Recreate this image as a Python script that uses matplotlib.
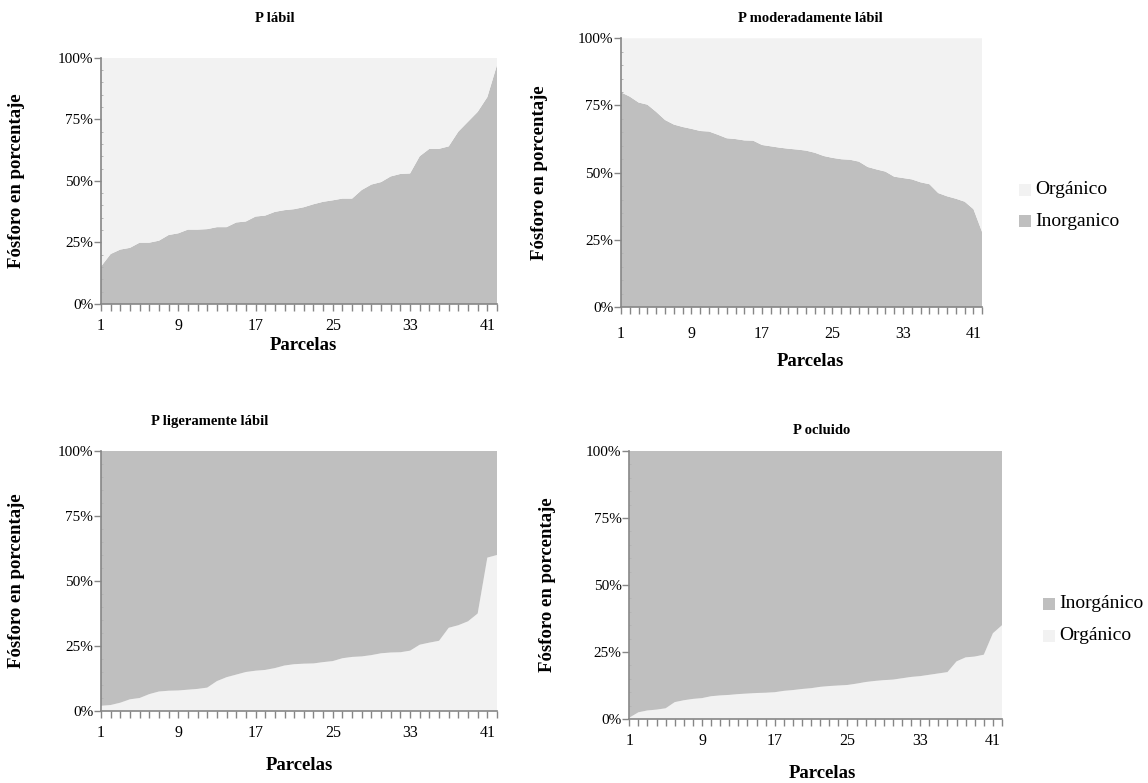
import matplotlib
matplotlib.use("Agg")
import matplotlib.pyplot as plt
from matplotlib.patches import Rectangle
from matplotlib.ticker import FixedLocator, FuncFormatter, MultipleLocator

plt.rcParams['font.family'] = ['Liberation Serif', 'DejaVu Serif']

# Parcel numbers (categories)
parcelas = list(range(1, 43))
tick_labels = [1, 9, 17, 25, 33, 41]

# P lábil: inorganic share (%) per parcel
labil_inorg = [15.2, 20.3, 22.1, 22.8, 24.9, 24.9, 25.7, 28.0, 28.7, 30.2,
               30.2, 30.4, 31.2, 31.2, 33.1, 33.5, 35.5, 35.9, 37.4, 38.1,
               38.5, 39.3, 40.5, 41.5, 42.1, 42.8, 42.8, 46.3, 48.5, 49.5,
               51.8, 52.8, 53.0, 60.0, 63.0, 63.0, 64.0, 70.0, 74.0, 78.0,
               84.0, 97.0]

# P moderadamente lábil: inorganic share (%) per parcel
moder_inorg = [79.9, 78.3, 76.1, 75.3, 72.6, 69.6, 67.9, 67.0, 66.3, 65.5,
               65.3, 64.1, 62.8, 62.5, 62.0, 61.9, 60.3, 59.8, 59.3, 58.9,
               58.6, 58.2, 57.4, 56.2, 55.5, 55.0, 54.8, 54.1, 52.1, 51.2,
               50.4, 48.5, 48.0, 47.5, 46.4, 45.7, 42.4, 41.2, 40.3, 39.2,
               36.4, 27.7]

# P ligeramente lábil: organic share (%) per parcel
liger_org = [2.0, 2.3, 3.2, 4.5, 5.0, 6.5, 7.5, 7.8, 7.9, 8.2,
             8.5, 9.0, 11.5, 13.0, 14.0, 15.0, 15.5, 15.8, 16.5, 17.5,
             18.0, 18.2, 18.3, 18.8, 19.2, 20.3, 20.8, 21.0, 21.5, 22.2,
             22.5, 22.6, 23.2, 25.5, 26.3, 27.0, 32.0, 33.0, 34.5, 37.5,
             59.0, 60.0]

# P ocluido: organic share (%) per parcel
ocl_org = [0.5, 2.5, 3.2, 3.5, 4.0, 6.3, 7.0, 7.5, 7.8, 8.5,
           8.8, 9.0, 9.3, 9.5, 9.7, 9.8, 10.0, 10.5, 10.8, 11.2,
           11.5, 12.0, 12.3, 12.5, 12.7, 13.2, 13.8, 14.2, 14.5, 14.7,
           15.2, 15.7, 16.0, 16.5, 17.0, 17.5, 21.5, 23.0, 23.3, 24.0,
           32.0, 35.0]

LIGHT = '#F2F2F2'
DARK = '#BFBFBF'
AXIS = '#868686'
W, H = 1148, 783

fig = plt.figure(figsize=(W / 100, H / 100), dpi=100)


def px_axes(x0, y0, x1, y1):
    return fig.add_axes([x0 / W, 1 - y1 / H, (x1 - x0) / W, (y1 - y0) / H])


def ftext(x, y, s, **kw):
    fig.text(x / W, 1 - y / H, s, **kw)


def style(ax, xpad):
    ax.set_xlim(1, len(parcelas))
    ax.set_ylim(0, 100)
    ax.xaxis.set_major_locator(FixedLocator(parcelas))
    ax.xaxis.set_major_formatter(
        FuncFormatter(lambda v, p: str(int(round(v))) if int(round(v)) in tick_labels else ''))
    ax.yaxis.set_major_locator(FixedLocator([0, 25, 50, 75, 100]))
    ax.yaxis.set_major_formatter(FuncFormatter(lambda v, p: f'{int(v)}%'))
    ax.yaxis.set_minor_locator(MultipleLocator(5))
    for s in ('top', 'right'):
        ax.spines[s].set_visible(False)
    for s in ('left', 'bottom'):
        ax.spines[s].set_color(AXIS)
        ax.spines[s].set_linewidth(1.2)
    ax.tick_params(axis='x', which='major', direction='out', length=5,
                   color=AXIS, width=1, labelsize=11.5, pad=xpad)
    ax.tick_params(axis='y', which='major', direction='out', length=5,
                   color=AXIS, width=1, labelsize=11, pad=0.5)
    ax.tick_params(axis='y', which='minor', direction='in', length=1.5,
                   color='#B4B4B4', width=0.7)


def legend(x, y, entries, gap=31):
    # square swatches followed by their labels, one row per entry
    for i, (color, label) in enumerate(entries):
        yy = y + i * gap
        fig.add_artist(Rectangle((x / W, 1 - (yy + 6) / H), 12 / W, 12 / H,
                                 transform=fig.transFigure, facecolor=color,
                                 edgecolor='none'))
        ftext(x + 16, yy, label, fontsize=14, ha='left', va='center')


lbl = dict(fontsize=13.5, fontweight='bold', ha='center', va='center')
ttl = dict(fontsize=10.5, fontweight='bold', ha='center', va='center')

# Top-left: P lábil
ax1 = px_axes(101, 57.7, 497, 304)
org1 = [100 - v for v in labil_inorg]
ax1.stackplot(parcelas, labil_inorg, org1, colors=[DARK, LIGHT], lw=0)
style(ax1, 5)
ftext(275, 18, 'P lábil', **ttl)
ftext(17, 181, 'Fósforo en porcentaje', rotation=90, **lbl)
ftext(303, 346, 'Parcelas', **lbl)

# Top-right: P moderadamente lábil
ax2 = px_axes(621, 38.3, 982.3, 307)
org2 = [100 - v for v in moder_inorg]
ax2.stackplot(parcelas, moder_inorg, org2, colors=[DARK, LIGHT], lw=0)
style(ax2, 9)
ftext(810, 18, 'P moderadamente lábil', **ttl)
ftext(540, 173, 'Fósforo en porcentaje', rotation=90, **lbl)
ftext(810, 362, 'Parcelas', **lbl)
legend(1019, 190, [(LIGHT, 'Orgánico'), (DARK, 'Inorganico')])

# Bottom-left: P ligeramente lábil
ax3 = px_axes(101, 451, 497, 711)
inorg3 = [100 - v for v in liger_org]
ax3.stackplot(parcelas, liger_org, inorg3, colors=[LIGHT, DARK], lw=0)
style(ax3, 5)
ftext(210, 421, 'P ligeramente lábil', **ttl)
ftext(17, 581, 'Fósforo en porcentaje', rotation=90, **lbl)
ftext(299, 766, 'Parcelas', **lbl)

# Bottom-right: P ocluido
ax4 = px_axes(629.3, 451, 1002, 719)
inorg4 = [100 - v for v in ocl_org]
ax4.stackplot(parcelas, ocl_org, inorg4, colors=[LIGHT, DARK], lw=0)
style(ax4, 5)
ftext(822, 431, 'P ocluido', **ttl)
ftext(548, 585, 'Fósforo en porcentaje', rotation=90, **lbl)
ftext(822, 773, 'Parcelas', **lbl)
legend(1043, 604, [(DARK, 'Inorgánico'), (LIGHT, 'Orgánico')], gap=32)

fig.savefig('out.png', dpi=100)
